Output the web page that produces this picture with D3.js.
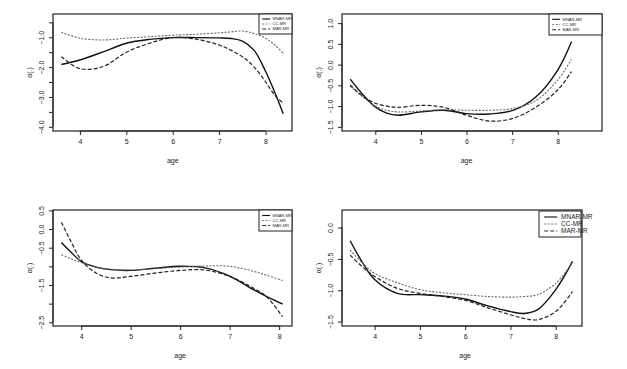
<!DOCTYPE html>
<html>
<head>
<meta charset="utf-8">
<script src="https://cdn.jsdelivr.net/npm/d3@7"></script>
<style>
  body { margin: 0; background: #fff; }
  text { font-family: "Liberation Sans", Arial, sans-serif; fill: #222; }
</style>
</head>
<body>
<svg id="chart" width="627" height="369"></svg>
<script>
// series names shared by all panels
const seriesNames = ["MNAR-MR", "CC-MR", "MAR-MR"];
const xTicks = [4, 5, 6, 7, 8];

// panel 1 (top left)
const p1Age = [3.6, 4.0, 4.5, 5.0, 5.5, 6.0, 6.5, 7.0, 7.25, 7.5, 7.75, 8.0, 8.2, 8.38];
const p1Mnar = [-1.91, -1.76, -1.49, -1.20, -1.07, -1.01, -1.01, -1.02, -1.04, -1.13, -1.43, -2.14, -2.85, -3.56];
const p1Cc = [-0.83, -1.03, -1.09, -1.03, -0.98, -0.93, -0.90, -0.85, -0.82, -0.79, -0.87, -1.03, -1.26, -1.54];
const p1Mar = [-1.65, -2.05, -1.98, -1.50, -1.20, -1.01, -1.06, -1.26, -1.43, -1.65, -1.99, -2.49, -2.94, -3.21];
const p1YTicks = [-0.5, -1.0, -1.5, -2.0, -2.5, -3.0, -3.5, -4.0];
const p1YLabels = [-1.0, -2.0, -3.0, -4.0];

// panel 2 (top right)
const p2Age = [3.45, 3.75, 4.0, 4.25, 4.5, 5.0, 5.5, 6.0, 6.5, 7.0, 7.5, 8.0, 8.3];
const p2Mnar = [-0.35, -0.75, -1.02, -1.17, -1.22, -1.14, -1.10, -1.18, -1.19, -1.11, -0.80, -0.13, 0.55];
const p2Cc = [-0.52, -0.80, -1.00, -1.10, -1.14, -1.12, -1.09, -1.10, -1.10, -1.06, -0.88, -0.37, 0.13];
const p2Mar = [-0.49, -0.78, -0.93, -1.00, -1.03, -0.98, -1.03, -1.22, -1.36, -1.30, -1.04, -0.61, -0.17];
const p2YTicks = [1.0, 0.5, 0.0, -0.5, -1.0, -1.5];
const p2YLabels = [1.0, 0.5, 0.0, -0.5, -1.0, -1.5];

// panel 3 (bottom left)
const p3Age = [3.6, 3.8, 4.0, 4.3, 4.6, 5.0, 5.5, 6.0, 6.5, 7.0, 7.5, 7.75, 8.07];
const p3Mnar = [-0.36, -0.63, -0.87, -1.02, -1.09, -1.11, -1.05, -1.00, -1.04, -1.26, -1.64, -1.81, -2.01];
const p3Cc = [-0.69, -0.80, -0.90, -1.02, -1.08, -1.10, -1.06, -1.02, -0.99, -1.00, -1.14, -1.24, -1.38];
const p3Mar = [0.18, -0.35, -0.83, -1.18, -1.31, -1.27, -1.18, -1.11, -1.10, -1.27, -1.60, -1.82, -2.35];
const p3YTicks = [0.5, 0.0, -0.5, -1.0, -1.5, -2.0, -2.5];
const p3YLabels = [0.5, 0.0, -0.5, -1.5, -2.5];

// panel 4 (bottom right)
const p4Age = [3.46, 3.75, 4.0, 4.5, 5.0, 5.5, 6.0, 6.5, 7.0, 7.3, 7.6, 8.0, 8.37];
const p4Mnar = [-0.21, -0.58, -0.83, -1.05, -1.07, -1.09, -1.14, -1.25, -1.34, -1.37, -1.31, -0.99, -0.54];
const p4Cc = [-0.36, -0.58, -0.73, -0.88, -0.99, -1.04, -1.07, -1.10, -1.11, -1.10, -1.07, -0.89, -0.56];
const p4Mar = [-0.44, -0.64, -0.78, -0.97, -1.05, -1.10, -1.16, -1.28, -1.39, -1.45, -1.47, -1.34, -1.02];
const p4YTicks = [0.0, -0.5, -1.0, -1.5];
const p4YLabels = [0.0, -0.5, -1.0, -1.5];

// layout: plot box in pixels, axis domains and legend box
const panels = [
  { age: p1Age, ys: [p1Mnar, p1Cc, p1Mar], yTicks: p1YTicks, yLabels: p1YLabels,
    box: [53, 14, 292, 131], xDom: [3.42, 8.57], yDom: [-0.22, -4.14],
    legend: { x: 259, y: 14, w: 33, h: 20, fs: 4, rowH: 5 } },
  { age: p2Age, ys: [p2Mnar, p2Cc, p2Mar], yTicks: p2YTicks, yLabels: p2YLabels,
    box: [342, 14, 602, 131], xDom: [3.27, 8.97], yDom: [1.22, -1.60],
    legend: { x: 549, y: 14, w: 53, h: 21, fs: 4, rowH: 5.2 } },
  { age: p3Age, ys: [p3Mnar, p3Cc, p3Mar], yTicks: p3YTicks, yLabels: p3YLabels,
    box: [53, 210, 292, 326], xDom: [3.43, 8.26], yDom: [0.51, -2.60],
    legend: { x: 259, y: 210, w: 33, h: 21, fs: 4, rowH: 5 } },
  { age: p4Age, ys: [p4Mnar, p4Cc, p4Mar], yTicks: p4YTicks, yLabels: p4YLabels,
    box: [342, 210, 582, 326], xDom: [3.28, 8.58], yDom: [0.28, -1.57],
    legend: { x: 539, y: 211, w: 42, h: 26, fs: 6.5, rowH: 7 } }
];

const styles = [
  { stroke: "#111", width: 1.4, dash: null },
  { stroke: "#666", width: 1.1, dash: "2,1.5" },
  { stroke: "#222", width: 1.2, dash: "4,2" }
];

const svg = d3.select("#chart");
const fmt = d3.format(".1f");

panels.forEach((p) => {
  const [x0, y0, x1, y1] = p.box;
  const xScale = d3.scaleLinear().domain(p.xDom).range([x0, x1]);
  const yScale = d3.scaleLinear().domain(p.yDom).range([y0, y1]);
  const g = svg.append("g");

  // x axis
  const xAxis = d3.axisBottom(xScale).tickValues(xTicks).tickSize(4).tickFormat(d3.format("d"));
  g.append("g")
    .attr("transform", `translate(0,${y1})`)
    .call(xAxis)
    .call((a) => a.select(".domain").remove())
    .call((a) => a.selectAll("line").attr("stroke", "#222"))
    .call((a) => a.selectAll("text").attr("font-size", 7).attr("dy", "0.9em").attr("fill", "#222"));
  g.append("line")
    .attr("x1", xScale(xTicks[0])).attr("x2", xScale(xTicks[xTicks.length - 1]))
    .attr("y1", y1).attr("y2", y1).attr("stroke", "#222");

  // y axis, labels parallel to the axis
  const yAxis = d3.axisLeft(yScale).tickValues(p.yTicks).tickSize(4)
    .tickFormat((d) => (p.yLabels.includes(d) ? fmt(d).replace("-", "\u2212") : ""));
  g.append("g")
    .attr("transform", `translate(${x0},0)`)
    .call(yAxis)
    .call((a) => a.select(".domain").remove())
    .call((a) => a.selectAll("line").attr("stroke", "#222"))
    .call((a) => a.selectAll("text")
      .attr("font-size", 7).attr("fill", "#222")
      .attr("text-anchor", "middle")
      .attr("transform", "translate(-11,0) rotate(-90)")
      .attr("x", 0).attr("y", 0).attr("dy", "0.35em"));
  g.append("line")
    .attr("x1", x0).attr("x2", x0)
    .attr("y1", yScale(p.yTicks[0])).attr("y2", yScale(p.yTicks[p.yTicks.length - 1]))
    .attr("stroke", "#222");

  // box
  g.append("rect")
    .attr("x", x0).attr("y", y0).attr("width", x1 - x0).attr("height", y1 - y0)
    .attr("fill", "none").attr("stroke", "#222").attr("stroke-width", 1.2);

  // titles
  g.append("text")
    .attr("x", (xScale(4) + xScale(8)) / 2).attr("y", y1 + 32)
    .attr("text-anchor", "middle").attr("font-size", 7).text("age");
  g.append("text")
    .attr("transform", `translate(${x0 - 21},${(y0 + y1) / 2}) rotate(-90)`)
    .attr("text-anchor", "middle").attr("font-size", 7).text("\u03b1(.)");

  // curves
  const line = d3.line()
    .x((d) => xScale(d[0]))
    .y((d) => yScale(d[1]))
    .curve(d3.curveCatmullRom.alpha(0.5));
  p.ys.forEach((vals, i) => {
    const pts = p.age.map((a, k) => [a, vals[k]]);
    g.append("path")
      .attr("d", line(pts))
      .attr("fill", "none")
      .attr("stroke", styles[i].stroke)
      .attr("stroke-width", styles[i].width)
      .attr("stroke-dasharray", styles[i].dash);
  });

  // legend
  const L = p.legend;
  const lg = g.append("g");
  lg.append("rect")
    .attr("x", L.x).attr("y", L.y).attr("width", L.w).attr("height", L.h)
    .attr("fill", "#fff").attr("stroke", "#222").attr("stroke-width", 1);
  seriesNames.forEach((name, i) => {
    const cy = L.y + L.h / 2 + (i - 1) * L.rowH;
    lg.append("line")
      .attr("x1", L.x + L.fs * 0.8).attr("x2", L.x + L.fs * 2.8)
      .attr("y1", cy).attr("y2", cy)
      .attr("stroke", styles[i].stroke)
      .attr("stroke-width", styles[i].width * 0.8)
      .attr("stroke-dasharray", styles[i].dash);
    lg.append("text")
      .attr("x", L.x + L.fs * 3.4).attr("y", cy).attr("dy", "0.35em")
      .attr("font-size", L.fs).text(name);
  });
});
</script>
</body>
</html>
